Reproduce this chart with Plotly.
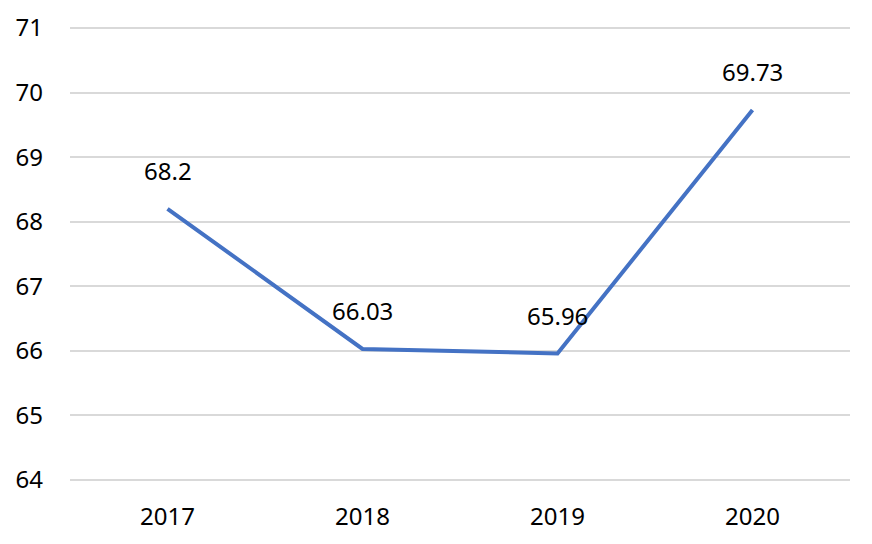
import plotly.graph_objects as go

years = ["2017", "2018", "2019", "2020"]
values = [68.2, 66.03, 65.96, 69.73]
labels = ["68.2", "66.03", "65.96", "69.73"]

FONT = "Noto Sans"

fig = go.Figure()

fig.add_trace(
    go.Scatter(
        x=years,
        y=values,
        mode="lines",
        line=dict(color="#4472C4", width=4),
        showlegend=False,
        hoverinfo="skip",
    )
)

# data labels above the points (x given as category index)
for i, (yi, lab) in enumerate(zip(values, labels)):
    fig.add_annotation(
        x=i,
        y=yi,
        text=lab,
        showarrow=False,
        yshift=38,
        font=dict(family=FONT, size=24, color="#000000"),
    )

# figure is 16px smaller than the window: the page body keeps an 8px margin
fig.update_layout(
    width=856,
    height=528,
    template="plotly_white",
    plot_bgcolor="white",
    paper_bgcolor="white",
    margin=dict(l=62, r=14, t=18, b=54),
    font=dict(family=FONT, size=24, color="#000000"),
    xaxis=dict(
        type="category",
        range=[-0.5, 3.5],
        automargin=False,
        showgrid=False,
        showline=False,
        zeroline=False,
        ticks="",
        ticklabelstandoff=18,
        tickfont=dict(size=24, color="#000000"),
    ),
    yaxis=dict(
        range=[63.97, 71.03],
        dtick=1,
        automargin=False,
        showgrid=True,
        gridcolor="#d9d9d9",
        gridwidth=1.5,
        zeroline=False,
        showline=False,
        ticks="",
        ticklabelstandoff=26,
        tickfont=dict(size=24, color="#000000"),
    ),
)

fig.write_html("out.html")
